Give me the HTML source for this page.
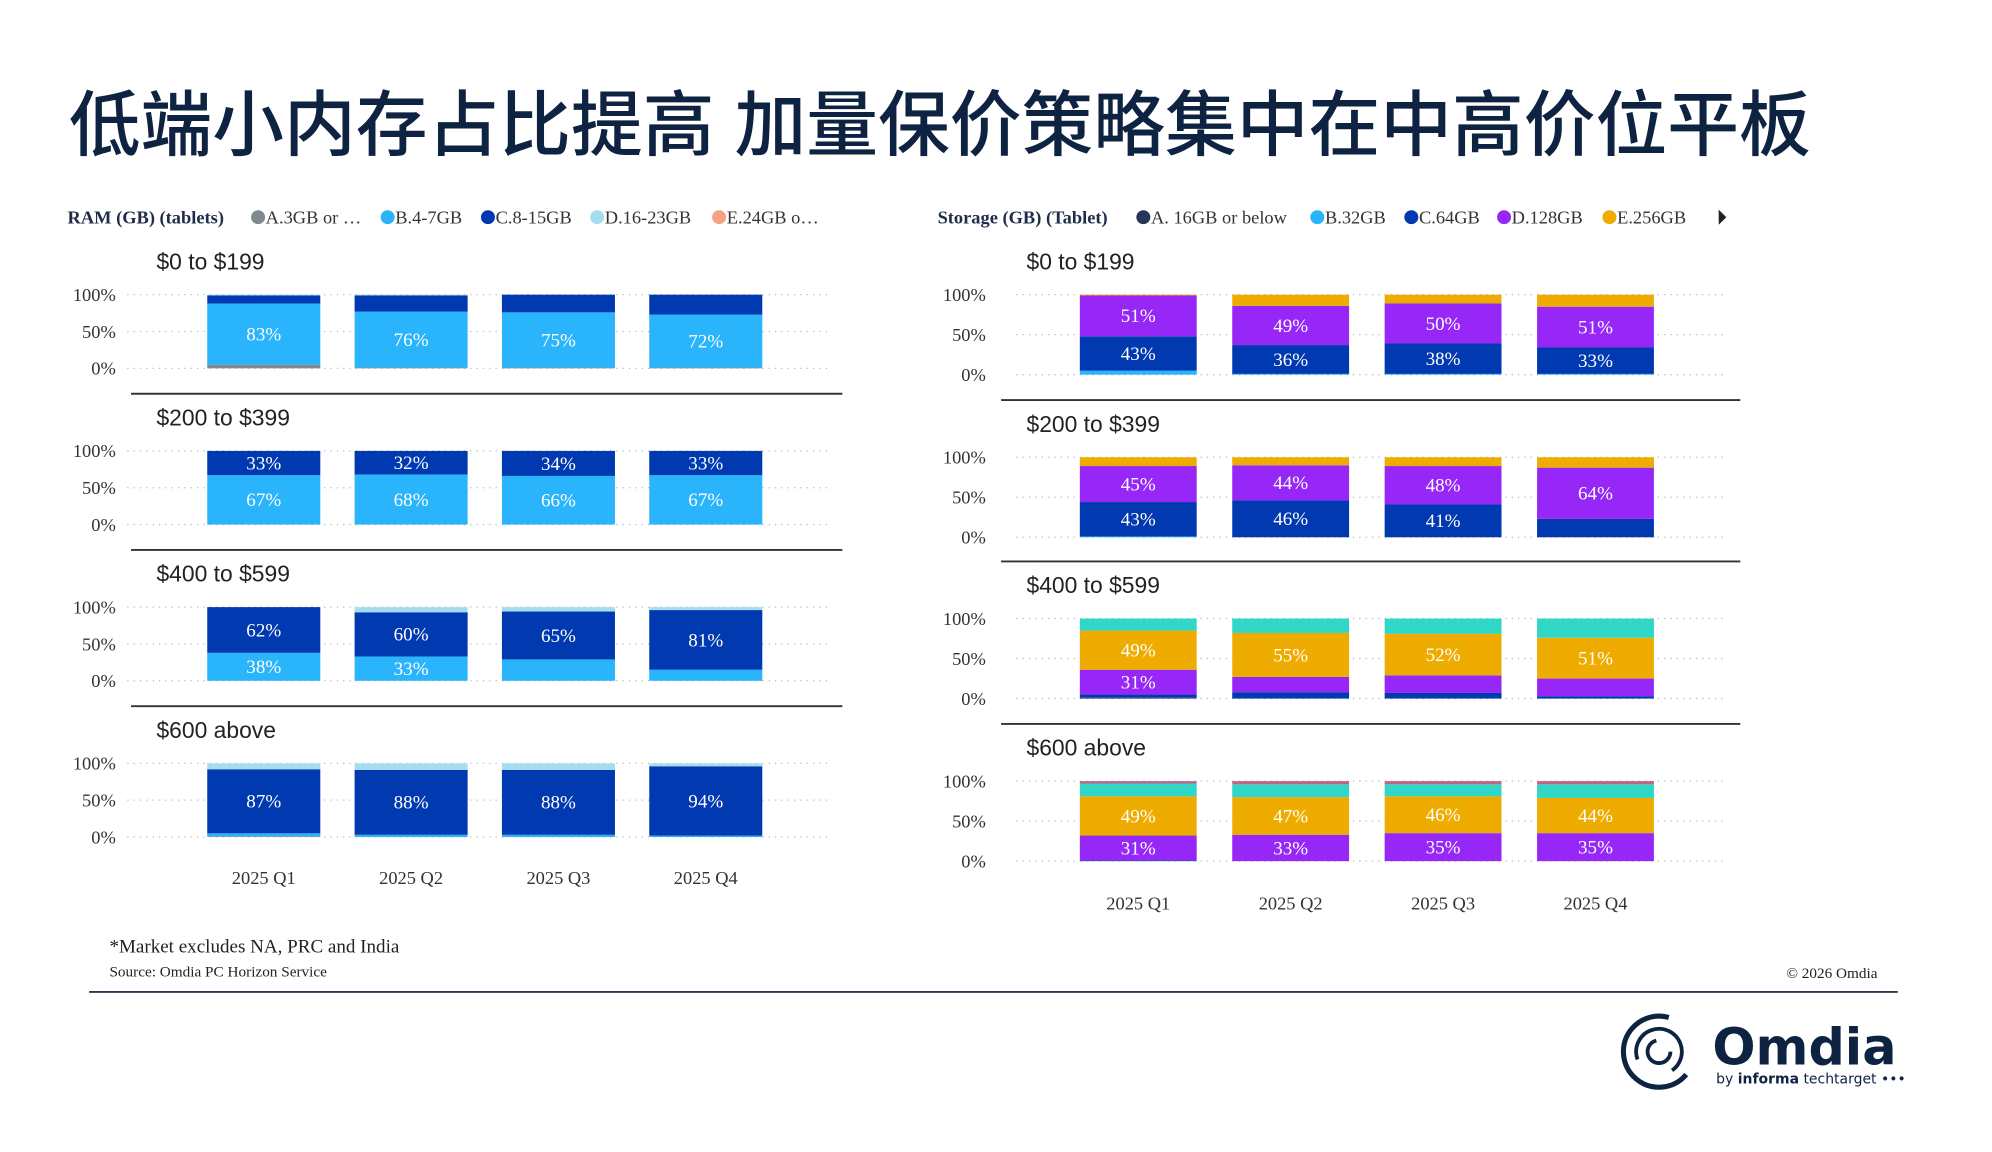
<!DOCTYPE html>
<html><head><meta charset="utf-8">
<style>
html,body{margin:0;padding:0;background:#fff;overflow:hidden}
svg{display:block}
</style></head>
<body>
<svg id="root" width="1992" height="1152" viewBox="0 0 1568 907" xmlns="http://www.w3.org/2000/svg">
<text x="54" y="118" font-family="'Liberation Sans','Noto Sans CJK SC',sans-serif" font-size="56.5" font-weight="500" fill="#0d2341">低端小内存占比提高 加量保价策略集中在中高价位平板</text>
<g id="left"></g>
<g id="right"></g>
<text x="86" y="750" font-family="'Liberation Serif',serif" font-size="15" fill="#222">*Market excludes NA, PRC and India</text>
<text x="86" y="769" font-family="'Liberation Serif',serif" font-size="12" fill="#222">Source: Omdia PC Horizon Service</text>
<text x="1478" y="770" text-anchor="end" font-family="'Liberation Serif',serif" font-size="12" fill="#222">© 2026 Omdia</text>
<line x1="70" y1="781" x2="1494" y2="781" stroke="#2a3a55" stroke-width="1.5"/>
<g>
  <circle cx="1306" cy="828" r="28" fill="none" stroke="#0d2341" stroke-width="4" stroke-dasharray="120 60" transform="rotate(40 1306 828)"/>
  <circle cx="1306" cy="828" r="18" fill="none" stroke="#0d2341" stroke-width="3" stroke-dasharray="80 40" transform="rotate(160 1306 828)"/>
  <circle cx="1306" cy="828" r="9" fill="none" stroke="#0d2341" stroke-width="3" stroke-dasharray="40 17"/>
  <text x="1348" y="838" font-family="'DejaVu Sans',sans-serif" font-size="40" font-weight="bold" fill="#0d2341">Omdia</text>
  <text x="1351" y="853" font-family="'DejaVu Sans',sans-serif" font-size="11" fill="#0d2341">by <tspan font-weight="bold">informa</tspan> techtarget •••</text>
</g>
</svg>
<script>
const NS='http://www.w3.org/2000/svg';
// ---------- RAM chart data ----------
const ramQuarters=['2025 Q1','2025 Q2','2025 Q3','2025 Q4'];
const ramPanels=['$0 to $199','$200 to $399','$400 to $599','$600 above'];
const ramSeries=['A.3GB or …','B.4-7GB','C.8-15GB','D.16-23GB','E.24GB o…'];
const ramColors=['#7f8a8c','#29b4fb','#0039b0','#a6dcef','#f6a283'];
// values per panel: [quarter][series]
const ramP1=[[5,83,11,1,0],[1,76,22,1,0],[1,75,24,0,0],[1,72,27,0,0]];
const ramP2=[[0,67,33,0,0],[0,68,32,0,0],[0,66,34,0,0],[0,67,33,0,0]];
const ramP3=[[0,38,62,0,0],[0,33,60,7,0],[0,29,65,6,0],[0,15,81,4,0]];
const ramP4=[[1,4,87,8,0],[0,3,88,9,0],[0,3,88,9,0],[0,2,94,4,0]];
// ---------- Storage chart data ----------
const stoQuarters=['2025 Q1','2025 Q2','2025 Q3','2025 Q4'];
const stoPanels=['$0 to $199','$200 to $399','$400 to $599','$600 above'];
const stoSeries=['A. 16GB or below','B.32GB','C.64GB','D.128GB','E.256GB','F.512GB','G.1TB'];
const stoColors=['#26375a','#29b4fb','#0039b0','#9627f7','#efac00','#30d6c6','#c0628a'];
const stoP1=[[0,5,43,51,1,0,0],[0,1,36,49,14,0,0],[0,1,38,50,11,0,0],[0,1,33,51,15,0,0]];
const stoP2=[[0,1,43,45,11,0,0],[0,0,46,44,10,0,0],[0,0,41,48,11,0,0],[0,0,23,64,13,0,0]];
const stoP3=[[1,0,4,31,49,15,0],[0,0,8,19,55,18,0],[0,0,7,22,52,19,0],[0,0,3,22,51,24,0]];
const stoP4=[[0,0,1,31,49,16,3],[0,0,0,33,47,16,4],[0,0,0,35,46,15,4],[0,0,0,35,44,17,4]];

function el(tag,attrs,parent){const e=document.createElementNS(NS,tag);for(const k in attrs)e.setAttribute(k,attrs[k]);if(parent)parent.appendChild(e);return e;}

function drawChart(g,cfg){
  const lt=el('text',{x:cfg.legendX,y:176,'font-family':"'Liberation Serif',serif",'font-size':14.5,'font-weight':'bold',fill:'#1f2d4a'},g);
  lt.textContent=cfg.legendTitle;
  
  
  cfg.legendPos.forEach((x,i)=>{
    const lg=el('g',{},g);
    
    
    el('circle',{cx:x,cy:171,r:5.5,fill:cfg.colors[i]},lg);
    const t=el('text',{x:x+6,y:176,'font-family':"'Liberation Serif',serif",'font-size':14.5,fill:'#333'},lg);
    t.textContent=cfg.series[i];
  });
  cfg.panelData.forEach((pd,p)=>{
    const y100=cfg.y100[p], h=cfg.h;
    const yS=v=>y100+h-v/100*h;
    const pg=el('g',{},g);
    
    
    const pt=el('text',{x:cfg.titleX,y:y100-20,'font-family':"'Liberation Sans',sans-serif",'font-size':18,fill:'#222'},pg);
    pt.textContent=cfg.panels[p];
    
    
    [0,50,100].forEach(v=>{
      el('line',{x1:cfg.gridX1,x2:cfg.gridX2,y1:yS(v),y2:yS(v),stroke:'#bbb','stroke-width':1,'stroke-dasharray':'1 4'},pg);
      const tl=el('text',{x:cfg.tickX,y:yS(v)+5,'text-anchor':'end','font-family':"'Liberation Serif',serif",'font-size':14.5,fill:'#333'},pg);
      tl.textContent=v+'%';
      
      
    });
    pd.forEach((vals,q)=>{
      const x=cfg.barX0+q*cfg.barStep;
      let cum=0;
      vals.forEach((v,s)=>{
        if(v<=0)return;
        const r=el('rect',{x:x,y:yS(cum+v),width:cfg.barW,height:yS(cum)-yS(cum+v),fill:cfg.colors[s]},pg);
        
        
        if(v>=30){
          const lb=el('text',{x:x+cfg.barW/2,y:(yS(cum)+yS(cum+v))/2+5,'text-anchor':'middle','font-family':"'Liberation Serif',serif",'font-size':15,fill:'#fff'},pg);
          lb.textContent=v+'%';
          
          
        }
        cum+=v;
      });
    });
    if(p<cfg.panelData.length-1){
      const sl=el('line',{x1:cfg.sepX1,x2:cfg.sepX2,y1:cfg.sepY[p],y2:cfg.sepY[p],stroke:'#333','stroke-width':1.5},pg);
      
      
    }
  });
  cfg.quarters.forEach((qn,q)=>{
    const t=el('text',{x:cfg.barX0+q*cfg.barStep+cfg.barW/2,y:cfg.xLabY,'text-anchor':'middle','font-family':"'Liberation Serif',serif",'font-size':14.5,fill:'#333'},g);
    t.textContent=qn;
    
    
  });
}

drawChart(document.getElementById('left'),{
  legendTitle:'RAM (GB) (tablets)',legendX:53,legendPos:[203,305,384,470,566],
  series:ramSeries,colors:ramColors,panels:ramPanels,quarters:ramQuarters,
  panelData:[ramP1,ramP2,ramP3,ramP4],
  y100:[232,355,478,601],h:58,titleX:123,tickX:91,gridX1:100,gridX2:652,
  barX0:163,barStep:116,barW:89,sepX1:103,sepX2:663,sepY:[310,433,556],xLabY:696
});
drawChart(document.getElementById('right'),{
  legendTitle:'Storage (GB) (Tablet)',legendX:738,legendPos:[900,1037,1111,1184,1267],
  series:stoSeries,colors:stoColors,panels:stoPanels,quarters:stoQuarters,
  panelData:[stoP1,stoP2,stoP3,stoP4],
  y100:[232,360,487,615],h:63,titleX:808,tickX:776,gridX1:800,gridX2:1356,
  barX0:850,barStep:120,barW:92,sepX1:788,sepX2:1370,sepY:[315,442,570],xLabY:716
});
const tri=el('polygon',{points:'1353,165 1359,171 1353,177',fill:'#222'},document.getElementById('right'));


</script>
</body></html>
